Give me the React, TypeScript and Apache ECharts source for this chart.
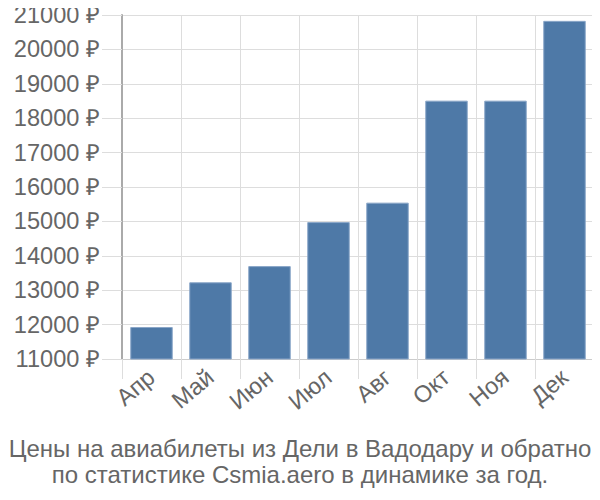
import React, { useEffect, useRef } from "react";
import * as echarts from "echarts";

const categories = ["Апр", "Май", "Июн", "Июл", "Авг", "Окт", "Ноя", "Дек"];
const prices = [11930, 13230, 13700, 14980, 15545, 18510, 18510, 20830];
const titleLines = [
  "Цены на авиабилеты из Дели в Вадодару и обратно",
  "по статистике Csmia.aero в динамике за год.",
];

const FONT = "Liberation Sans, Arial, sans-serif";

export default function App() {
  const ref = useRef<HTMLDivElement>(null);
  useEffect(() => {
    if (!ref.current) return;
    const chart = echarts.init(ref.current, undefined, { renderer: "svg" });
    chart.setOption({
      animation: false,
      textStyle: { fontFamily: FONT },
      title: {
        text: titleLines.join("\n"),
        left: "center",
        top: 430,
        textStyle: {
          fontSize: 24,
          fontWeight: "normal",
          color: "#666",
          lineHeight: 26,
          fontFamily: FONT,
        },
      },
      grid: { left: 122, right: 6, top: 15, bottom: 141, containLabel: false },
      xAxis: {
        type: "category",
        data: categories,
        boundaryGap: true,
        axisLine: { show: true, lineStyle: { color: "#ccc", width: 1 } },
        axisTick: { show: true, length: 20, alignWithLabel: false, lineStyle: { color: "#ddd" } },
        splitLine: { show: true, lineStyle: { color: "#ddd", width: 1 } },
        axisLabel: {
          rotate: 40,
          fontSize: 23.6,
          color: "#666",
          margin: 15,
          interval: 0,
          fontFamily: FONT,
        },
      },
      yAxis: {
        type: "value",
        min: 11000,
        max: 21000,
        interval: 1000,
        axisLine: { show: true, lineStyle: { color: "#aaa", width: 2 } },
        axisTick: { show: true, length: 20, lineStyle: { color: "#ddd" } },
        splitLine: { show: true, lineStyle: { color: "#ddd", width: 1 } },
        axisLabel: {
          fontSize: 23.6,
          color: "#666",
          margin: 22,
          fontFamily: FONT,
          formatter: (v: number) => `${v} ₽`,
        },
      },
      series: [
        {
          type: "bar",
          data: prices,
          barWidth: "72%",
          itemStyle: { color: "#4e79a7", borderColor: "#8aa6c8", borderWidth: 1 },
        },
      ],
    });
    return () => chart.dispose();
  }, []);
  return <div ref={ref} style={{ width: 600, height: 500, margin: -8 }} />;
}
